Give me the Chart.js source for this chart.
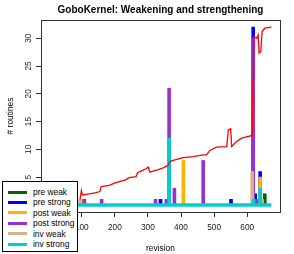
<!DOCTYPE html>
<html>
<head>
<meta charset="utf-8">
<script src="https://cdn.jsdelivr.net/npm/chart.js@4"></script>
<style>
  body { margin: 0; background: #fff; }
  #wrap { position: relative; width: 294px; height: 254px; }
  #legend { position: absolute; left: 2px; top: 181px; width: 74px; height: 69px;
    border: 1px solid #000; background: #fff; font: 8.4px "Liberation Sans", Arial, sans-serif; color: #000; }
  #legend .row { position: absolute; left: 0; height: 10px; width: 74px; }
  #legend .sw { position: absolute; left: 5px; top: 3.5px; width: 19px; height: 3px; }
  #legend .lb { position: absolute; left: 30px; top: 0; line-height: 10px; white-space: nowrap; }
</style>
</head>
<body>
<div id="wrap">
  <canvas id="c" width="294" height="254"></canvas>
  <div id="legend"></div>
</div>
<script>
// series (revision, number of routines)
const seriesNames = ['pre weak', 'pre strong', 'post weak', 'post strong', 'inv weak', 'inv strong'];
const seriesColors = ['#006400', '#0000ff', '#ffb300', '#9932cc', '#d2b48c', '#00ced1'];

const preWeakRev = [98, 653];
const preWeakVal = [1, 2];
const preStrongRev = [338, 551, 618, 624, 639];
const preStrongVal = [1, 1, 32, 2, 6];
const postWeakRev = [101, 407, 639];
const postWeakVal = [1, 8, 5];
const postStrongRev = [108, 160, 323, 356, 364, 380, 467, 618, 627];
const postStrongVal = [1, 1, 1, 1, 21, 3, 8, 30, 1];
const invWeakRev = [95, 615, 645];
const invWeakVal = [1, 6, 1];
const invStrongRev = [364, 619, 639];
const invStrongVal = [12, 1, 3];

// total routines (red line)
const totalRev = [95, 99, 102, 123, 143, 155, 159, 183, 203, 233, 243, 264, 269, 284, 294, 301, 306, 311,
  331, 346, 361, 366, 376, 407, 437, 467, 477, 487, 507, 538, 543, 550, 553, 568, 583, 615,
  620, 628, 633, 636, 641, 645, 653, 673];
const totalVal = [1, 2.6, 1.8, 2, 2.2, 2.4, 3.3, 3.5, 4, 4.5, 4.9, 5.1, 5.8, 6.2, 6.5, 6.8, 5.9, 6,
  6.35, 6.65, 7.1, 7.8, 8, 8.5, 8.7, 9, 9, 9.8, 10.4, 10.5, 13.5, 13.7, 10.5, 11.4, 12, 12.5,
  30.3, 30, 30.6, 27.3, 27.6, 31.2, 31.8, 32];

const revisionRange = [3, 673];
const xTickStep = 100;
const yTickStep = 5;

const pts = (xs, ys) => xs.map((x, i) => ({ x: x, y: ys[i] }));

const barSets = [
  [preWeakRev, preWeakVal], [preStrongRev, preStrongVal], [postWeakRev, postWeakVal],
  [postStrongRev, postStrongVal], [invWeakRev, invWeakVal], [invStrongRev, invStrongVal]
];

const datasets = barSets.map((s, i) => ({
  type: 'bar',
  label: seriesNames[i],
  data: pts(s[0], s[1]),
  backgroundColor: seriesColors[i],
  barThickness: 3,
  grouped: false,
  order: 7 - i
}));

// zero line of every revision, drawn in the last colour like in R
datasets.push({
  type: 'line',
  data: revisionRange.map(x => ({ x: x, y: 0 })),
  borderColor: seriesColors[5],
  borderWidth: 3.5,
  pointRadius: 0,
  order: 1
});

datasets.push({
  type: 'line',
  data: pts(totalRev, totalVal),
  borderColor: '#ff0000',
  borderWidth: 1.3,
  pointRadius: 0,
  tension: 0,
  order: 0
});

// box round the plot and vertical y labels like R
const rStyle = {
  id: 'rStyle',
  afterDraw(chart) {
    const ctx = chart.ctx, a = chart.chartArea, y = chart.scales.y;
    ctx.save();
    ctx.strokeStyle = '#333';
    ctx.lineWidth = 1;
    ctx.strokeRect(Math.round(a.left) + 0.5, Math.round(a.top) + 0.5,
      Math.round(a.right - a.left), Math.round(a.bottom - a.top));
    ctx.fillStyle = '#222';
    ctx.font = '8.3px "Liberation Sans", Arial, sans-serif';
    ctx.textAlign = 'center';
    ctx.textBaseline = 'middle';
    y.ticks.forEach(t => {
      const py = y.getPixelForValue(t.value);
      ctx.save();
      ctx.translate(29, py);
      ctx.rotate(-Math.PI / 2);
      ctx.fillText(String(t.value), 0, 0);
      ctx.restore();
    });
    ctx.restore();
  }
};

Chart.defaults.font.family = '"Liberation Sans", Arial, sans-serif';

new Chart(document.getElementById('c'), {
  type: 'bar',
  data: { datasets: datasets },
  options: {
    responsive: false,
    devicePixelRatio: 1,
    animation: false,
    layout: { padding: { left: 0, top: 0, right: 14, bottom: 0 } },
    plugins: {
      legend: { display: false },
      tooltip: { enabled: false },
      title: {
        display: true,
        text: 'GoboKernel: Weakening and strengthening',
        fullSize: false,
        color: '#000',
        font: { size: 10, weight: 'bold' },
        padding: { top: 4, bottom: 4 }
      }
    },
    scales: {
      x: {
        type: 'linear',
        min: -23,
        max: 699,
        offset: false,
        ticks: { stepSize: xTickStep, includeBounds: false, autoSkip: false, maxRotation: 0,
          color: '#222', font: { size: 8.3 }, padding: 6 },
        grid: { offset: false, drawOnChartArea: false, drawTicks: true, tickLength: 5, color: '#333' },
        border: { display: false },
        title: { display: true, text: 'revision', color: '#000', font: { size: 8.4 }, padding: { top: 0, bottom: 0 } },
        afterFit: s => { s.height = 42; }
      },
      y: {
        type: 'linear',
        min: -1.28,
        max: 33.28,
        ticks: { stepSize: yTickStep, includeBounds: false, display: false },
        grid: { drawOnChartArea: false, drawTicks: true, tickLength: 5, color: '#333' },
        border: { display: false },
        title: { display: true, text: '# routines', color: '#000', font: { size: 8.4 }, padding: { top: 6, bottom: 0 } },
        afterFit: s => { s.width = 41; }
      }
    }
  },
  plugins: [rStyle]
});

// legend box over the lower left corner, as in the original
const legend = document.getElementById('legend');
seriesNames.forEach((name, i) => {
  const row = document.createElement('div');
  row.className = 'row';
  row.style.top = (5 + i * 10.4) + 'px';
  row.innerHTML = '<span class="sw" style="background:' + seriesColors[i] + '"></span><span class="lb">' + name + '</span>';
  legend.appendChild(row);
});
</script>
</body>
</html>
